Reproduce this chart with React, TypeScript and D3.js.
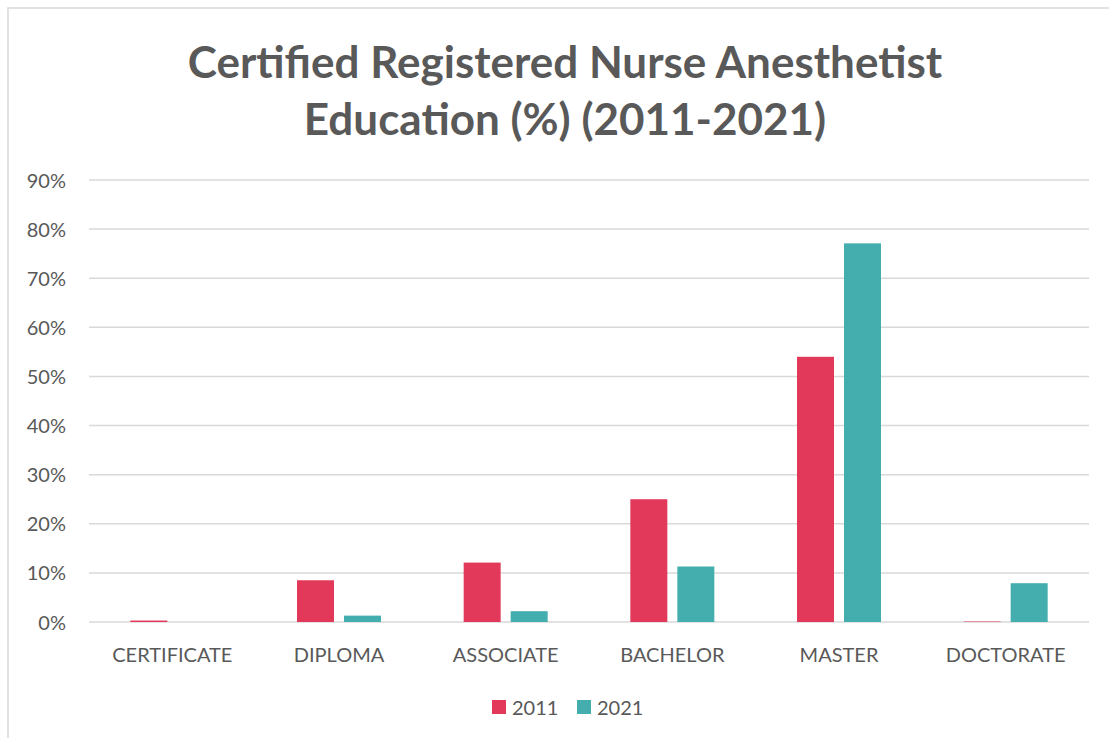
import { useEffect, useRef } from 'react';
import * as d3 from 'd3';

const categories = ['CERTIFICATE', 'DIPLOMA', 'ASSOCIATE', 'BACHELOR', 'MASTER', 'DOCTORATE'];
const years = ['2011', '2021'];
const values2011 = [0.3, 8.5, 12.1, 25, 54, 0.1];
const values2021 = [0, 1.3, 2.2, 11.3, 77.1, 7.9];
const yTicks = [0, 10, 20, 30, 40, 50, 60, 70, 80, 90];
const titleLines = ['Certified Registered Nurse Anesthetist', 'Education (%) (2011-2021)'];

const COLORS = ['#E2395B', '#44AEAE'];
const TEXT = '#595959';
const GRID = '#D9D9D9';
const FONT = 'Lato, "Open Sans", sans-serif';

export default function App() {
  const svgRef = useRef<SVGSVGElement>(null);

  useEffect(() => {
    if (!svgRef.current) return;
    const width = 1109;
    const height = 738;
    const margin = { top: 180, right: 20, bottom: 116, left: 89 };

    const svg = d3.select(svgRef.current);
    svg.selectAll('*').remove();
    svg.attr('width', width).attr('height', height);

    // chart area border (clipped by the window on right / bottom)
    svg
      .append('rect')
      .attr('x', 8)
      .attr('y', 8)
      .attr('width', width)
      .attr('height', height)
      .attr('fill', '#fff')
      .attr('stroke', GRID)
      .attr('stroke-width', 1.5);

    const title = svg
      .append('text')
      .attr('x', 565)
      .attr('text-anchor', 'middle')
      .attr('fill', TEXT)
      .style('font-family', FONT)
      .style('font-weight', 'bold')
      .style('font-size', '44px');
    titleLines.forEach((line, i) => {
      title.append('tspan').attr('x', 565).attr('y', 78 + i * 57).text(line);
    });

    const x0 = d3
      .scaleBand<string>()
      .domain(categories)
      .range([margin.left, width - margin.right])
      .padding(0);

    const groupWidth = 84;
    const x1 = d3
      .scaleBand<string>()
      .domain(years)
      .range([(x0.bandwidth() - groupWidth) / 2, (x0.bandwidth() + groupWidth) / 2])
      .paddingInner(10 / 47)
      .paddingOuter(0);

    const y = d3
      .scaleLinear()
      .domain([0, 90])
      .range([height - margin.bottom, margin.top]);

    // gridlines
    svg
      .append('g')
      .selectAll('line')
      .data(yTicks)
      .join('line')
      .attr('x1', margin.left)
      .attr('x2', width - margin.right)
      .attr('y1', (d) => y(d))
      .attr('y2', (d) => y(d))
      .attr('stroke', GRID)
      .attr('stroke-width', 1.5);

    // y tick labels
    svg
      .append('g')
      .selectAll('text')
      .data(yTicks)
      .join('text')
      .attr('x', 66)
      .attr('y', (d) => y(d) + 7.5)
      .attr('text-anchor', 'end')
      .attr('fill', TEXT)
      .style('font-family', FONT)
      .style('font-size', '20px')
      .text((d) => `${d}%`);

    const series = [values2011, values2021];
    series.forEach((vals, si) => {
      svg
        .append('g')
        .selectAll('rect')
        .data(vals)
        .join('rect')
        .attr('x', (_, i) => (x0(categories[i]) ?? 0) + (x1(years[si]) ?? 0))
        .attr('y', (d) => y(d))
        .attr('width', x1.bandwidth())
        .attr('height', (d) => y(0) - y(d))
        .attr('fill', COLORS[si]);
    });

    // category labels
    svg
      .append('g')
      .selectAll('text')
      .data(categories)
      .join('text')
      .attr('x', (d) => (x0(d) ?? 0) + x0.bandwidth() / 2)
      .attr('y', 662)
      .attr('text-anchor', 'middle')
      .attr('fill', TEXT)
      .style('font-family', FONT)
      .style('font-size', '20px')
      .text((d) => d);

    // legend
    const legendX = [492, 577];
    years.forEach((yr, i) => {
      const item = svg.append('g').attr('transform', `translate(${legendX[i]}, 700)`);
      item.append('rect').attr('width', 14).attr('height', 14).attr('fill', COLORS[i]);
      item
        .append('text')
        .attr('x', 20)
        .attr('y', 15)
        .attr('fill', TEXT)
        .style('font-family', FONT)
        .style('font-size', '20px')
        .text(yr);
    });
  }, []);

  return <svg ref={svgRef} style={{ position: 'absolute', left: 0, top: 0 }} />;
}
